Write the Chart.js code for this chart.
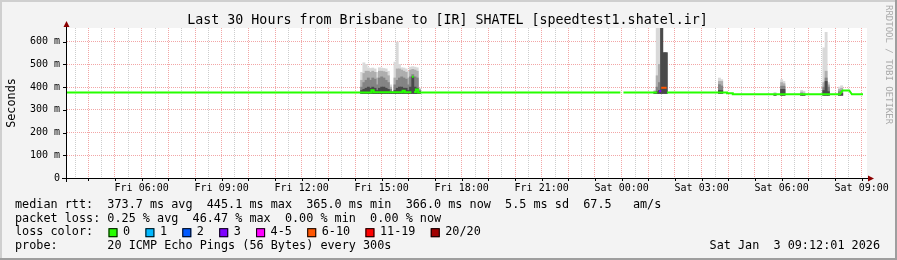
<!DOCTYPE html>
<html>
<head>
<meta charset="utf-8">
<script src="https://cdn.jsdelivr.net/npm/chart.js@4/dist/chart.umd.min.js"></script>
<style>
html, body { margin: 0; padding: 0; background: #f3f3f3; }
canvas { display: block; }
</style>
</head>
<body>
<canvas id="smoke" width="897" height="260"></canvas>
<script>
// axis labels
const xTickLabels = ['Fri 06:00', 'Fri 09:00', 'Fri 12:00', 'Fri 15:00', 'Fri 18:00',
  'Fri 21:00', 'Sat 00:00', 'Sat 03:00', 'Sat 06:00', 'Sat 09:00'];
const yTicks = [0, 50, 100, 150, 200, 250, 300, 350, 400, 450, 500, 550, 600, 650];
const rangeStart = 'Fri 03:12';
const rangeEnd = 'Sat 09:12';

// smoke: per 5 minute step, lowest ping and the tops of 4 bands (dark -> light), ms
const smokeTime = [
  'Fri 14:15', 'Fri 14:20', 'Fri 14:25', 'Fri 14:30', 'Fri 14:35', 'Fri 14:40', 'Fri 14:45',
  'Fri 14:50', 'Fri 14:55', 'Fri 15:00', 'Fri 15:05', 'Fri 15:10', 'Fri 15:15', 'Fri 15:20',
  'Fri 15:25', 'Fri 15:30', 'Fri 15:35', 'Fri 15:40', 'Fri 15:45', 'Fri 15:50', 'Fri 15:55',
  'Fri 16:00', 'Fri 16:05', 'Fri 16:10', 'Fri 16:15', 'Fri 16:20', 'Fri 16:25',
  'Sat 01:15', 'Sat 01:20', 'Sat 01:25', 'Sat 01:30', 'Sat 01:35', 'Sat 01:40',
  'Sat 03:40', 'Sat 03:45',
  'Sat 05:45', 'Sat 06:00', 'Sat 06:05', 'Sat 06:45', 'Sat 06:50',
  'Sat 07:35', 'Sat 07:40', 'Sat 07:45', 'Sat 08:10', 'Sat 08:15'
];
const smokeLow = [
  372, 372, 372, 372, 372, 372, 372, 372, 372, 372, 372, 372, 372, 372,
  372, 372, 372, 372, 372, 372, 372, 372, 372, 372, 372, 372, 372,
  372, 372, 372, 372, 372, 372,
  372, 372,
  364, 364, 364, 364, 364,
  364, 364, 364, 364, 364
];
const smokeBand1 = [
  385, 390, 395, 400, 395, 400, 395, 385, 395, 400, 400, 395, 390, 380,
  375, 385, 395, 400, 400, 395, 395, 385, 400, 445, 400, 395, 380,
  375, 380, 385, 700, 551, 551,
  385, 385,
  366, 390, 390, 368, 366,
  385, 425, 380, 370, 372
];
const smokeBand2 = [
  400, 420, 430, 440, 430, 440, 435, 410, 440, 445, 440, 430, 420, 390,
  377, 410, 430, 440, 445, 440, 435, 410, 445, 455, 445, 440, 385,
  378, 400, 420, 700, 551, 551,
  411, 405,
  368, 404, 404, 372, 369,
  400, 440, 400, 380, 385
];
const smokeBand3 = [
  430, 460, 470, 470, 465, 470, 465, 440, 470, 470, 468, 465, 450, 400,
  379, 440, 480, 480, 475, 470, 465, 440, 475, 478, 475, 470, 390,
  382, 450, 500, 700, 551, 551,
  425, 425,
  372, 420, 415, 378, 374,
  420, 470, 410, 390, 395
];
const smokeBand4 = [
  465, 507, 500, 485, 482, 484, 480, 465, 485, 484, 482, 480, 470, 410,
  382, 510, 598, 500, 485, 484, 480, 470, 488, 490, 488, 485, 395,
  386, 700, 700, 700, 551, 551,
  440, 433,
  377, 433, 425, 386, 382,
  573, 641, 420, 400, 406
];

// median rtt (null = no data)
const medTime = [
  'Fri 03:12', 'Fri 14:37', 'Fri 14:37', 'Fri 14:42', 'Fri 14:42',
  'Fri 15:47', 'Fri 15:47', 'Fri 15:52', 'Fri 15:52', 'Fri 16:07', 'Fri 16:07',
  'Fri 16:08', 'Fri 16:12', 'Fri 16:12',
  'Fri 16:13', 'Fri 16:17', 'Fri 16:17', 'Fri 16:22', 'Fri 16:22',
  'Fri 23:57', 'Sat 00:00', 'Sat 00:04', 'Sat 01:20', 'Sat 01:30', 'Sat 01:42',
  'Sat 03:57', 'Sat 03:57', 'Sat 04:10', 'Sat 04:10',
  'Sat 08:11', 'Sat 08:17', 'Sat 08:32', 'Sat 08:38', 'Sat 09:03'
];
const medValue = [
  376, 376, 386, 386, 377,
  377, 384, 384, 377, 377, null,
  445, 445, null,
  378, 378, 389, 389, 376,
  376, null, 376, 376, null, 376,
  376, 373, 373, 368,
  368, 385, 385, 368, 368
];
// median drawn in loss colours
const loss3Time = ['Sat 01:24', 'Sat 01:29'];
const loss3Value = [382, 382];
const loss6Time = ['Sat 01:29', 'Sat 01:41'];
const loss6Value = [397, 397];

const lossNames = ['0', '1', '2', '3', '4-5', '6-10', '11-19', '20/20'];
const lossColors = ['#26ff00', '#00b8ff', '#0059ff', '#7e00ff', '#ff00ff', '#ff5500', '#ff0000', '#a10000'];

const legendRows = [
  'median rtt:  373.7 ms avg  445.1 ms max  365.0 ms min  366.0 ms now  5.5 ms sd  67.5   am/s',
  'packet loss: 0.25 % avg  46.47 % max  0.00 % min  0.00 % now',
  'loss color:',
  'probe:       20 ICMP Echo Pings (56 Bytes) every 300s'
];
const stamp = 'Sat Jan  3 09:12:01 2026';
const title = 'Last 30 Hours from Brisbane to [IR] SHATEL [speedtest1.shatel.ir]';

const MONO = '"DejaVu Sans Mono", "Liberation Mono", monospace';
const RED = '#f2a6a6';
const GRAY = '#cdcdcd';

function hrs(s) {
  const [d, hm] = s.split(' ');
  const [h, m] = hm.split(':').map(Number);
  return (d === 'Sat' ? 24 : 0) + h + m / 60;
}
const labelAt = {};
xTickLabels.forEach(l => { labelAt[hrs(l)] = l; });

function pts(times, values) {
  return times.map((t, i) => ({ x: hrs(t), y: values[i] }));
}

const bands = [
  { top: smokeBand4, color: '#d9d9d9', order: 5 },
  { top: smokeBand3, color: '#aeaeae', order: 4 },
  { top: smokeBand2, color: '#848484', order: 3 },
  { top: smokeBand1, color: '#4a4a4a', order: 2 }
];
const smokeSets = bands.map(b => ({
  type: 'bar',
  data: smokeTime.map((t, i) => ({ x: hrs(t), y: [smokeLow[i], b.top[i]] })),
  backgroundColor: b.color,
  borderWidth: 0,
  grouped: false,
  barPercentage: 1,
  categoryPercentage: 1,
  order: b.order
}));

function lineSet(data, color) {
  return {
    type: 'line', data, borderColor: color, borderWidth: 2,
    pointRadius: 0, tension: 0, spanGaps: false, borderCapStyle: 'butt', order: 0
  };
}

const frame = {
  id: 'frame',
  beforeDraw(chart) {
    const { ctx, chartArea: a } = chart;
    ctx.save();
    ctx.fillStyle = '#f3f3f3';
    ctx.fillRect(0, 0, 897, 260);
    ctx.fillStyle = '#cfcfcf';
    ctx.fillRect(0, 0, 897, 2);
    ctx.fillRect(0, 0, 2, 260);
    ctx.fillStyle = '#9e9e9e';
    ctx.fillRect(0, 258, 897, 2);
    ctx.fillRect(895, 0, 2, 260);
    ctx.fillStyle = '#ffffff';
    ctx.fillRect(a.left, a.top, a.right - a.left, a.bottom - a.top);
    ctx.restore();
  },
  afterDraw(chart) {
    const { ctx, chartArea: a, scales } = chart;
    ctx.save();
    // axes
    ctx.strokeStyle = '#000';
    ctx.lineWidth = 1;
    ctx.beginPath();
    ctx.moveTo(62, a.bottom + 0.5); ctx.lineTo(a.right + 1, a.bottom + 0.5);
    ctx.moveTo(a.left - 0.5, a.bottom + 4); ctx.lineTo(a.left - 0.5, a.top - 1);
    // tick marks
    yTicks.forEach(v => {
      if (v % 100 !== 0) return;
      const y = Math.round(scales.y.getPixelForValue(v)) + 0.5;
      ctx.moveTo(a.left - 4, y); ctx.lineTo(a.left - 1, y);
    });
    scales.x.ticks.forEach(t => {
      if (t.value % 1 !== 0) return;
      const x = Math.round(scales.x.getPixelForValue(t.value)) + 0.5;
      ctx.moveTo(x, a.bottom + 1); ctx.lineTo(x, a.bottom + 3);
    });
    ctx.stroke();
    ctx.fillStyle = '#8b0000';
    ctx.beginPath();
    ctx.moveTo(a.right + 1, a.bottom - 2.5); ctx.lineTo(a.right + 7, a.bottom + 0.5); ctx.lineTo(a.right + 1, a.bottom + 3.5);
    ctx.closePath(); ctx.fill();
    ctx.beginPath();
    ctx.moveTo(a.left - 3.5, a.top - 1); ctx.lineTo(a.left - 0.5, a.top - 7); ctx.lineTo(a.left + 2.5, a.top - 1);
    ctx.closePath(); ctx.fill();

    // title
    ctx.fillStyle = '#000';
    ctx.font = '13.3px ' + MONO;
    ctx.textAlign = 'center';
    ctx.textBaseline = 'alphabetic';
    ctx.fillText(title, 447.5, 24);

    // y label
    ctx.font = '11.8px ' + MONO;
    ctx.save();
    ctx.translate(15, 103);
    ctx.rotate(-Math.PI / 2);
    ctx.fillText('Seconds', 0, 0);
    ctx.restore();

    // credit
    ctx.save();
    ctx.fillStyle = '#aaaaaa';
    ctx.font = '9px ' + MONO;
    ctx.textAlign = 'left';
    ctx.translate(885.5, 5);
    ctx.rotate(Math.PI / 2);
    ctx.fillText('RRDTOOL / TOBI OETIKER', 0, 0);
    ctx.restore();

    // legend
    ctx.font = '11.8px ' + MONO;
    ctx.textAlign = 'left';
    const base = [207.8, 221.5, 235.2, 249.0];
    legendRows.forEach((r, i) => ctx.fillText(r, 15, base[i]));
    let x = 108.5;
    lossNames.forEach((n, i) => {
      ctx.fillStyle = lossColors[i];
      ctx.fillRect(x, base[2] - 7, 9, 9);
      ctx.strokeStyle = '#000';
      ctx.strokeRect(x + 0.5, base[2] - 6.5, 8, 8);
      ctx.fillStyle = '#000';
      ctx.fillText(n, x + 14.5, base[2]);
      x += 14.5 + ctx.measureText(n).width + 15.3;
    });
    ctx.textAlign = 'right';
    ctx.fillText(stamp, 880, base[3]);
    ctx.restore();
  }
};

new Chart(document.getElementById('smoke'), {
  type: 'bar',
  data: {
    datasets: [
      ...smokeSets,
      lineSet(pts(medTime, medValue), lossColors[0]),
      lineSet(pts(loss3Time, loss3Value), lossColors[3]),
      lineSet(pts(loss6Time, loss6Value), lossColors[5])
    ]
  },
  options: {
    responsive: false,
    devicePixelRatio: 1,
    animation: false,
    events: [],
    layout: { padding: { top: 28, right: 30, left: 0, bottom: 0 } },
    plugins: { legend: { display: false }, tooltip: { enabled: false } },
    scales: {
      x: {
        type: 'linear',
        min: hrs(rangeStart),
        max: hrs(rangeEnd),
        offset: false,
        afterBuildTicks(s) {
          const t = [];
          for (let i = 7; i <= 66; i++) t.push({ value: i / 2 });
          s.ticks = t;
        },
        afterFit(s) { s.height = 82; },
        grid: {
          offset: false, drawTicks: false, lineWidth: 1,
          color: c => (c.tick && c.tick.value % 1 === 0) ? RED : GRAY
        },
        border: { display: false, dash: [1, 1] },
        ticks: {
          autoSkip: false, maxRotation: 0, minRotation: 0, padding: 4, color: '#000',
          font: { family: MONO, size: 10 },
          callback: v => labelAt[v] || ''
        }
      },
      y: {
        min: 0,
        max: 660,
        afterBuildTicks(s) { s.ticks = yTicks.map(v => ({ value: v })); },
        afterFit(s) { s.width = 67; },
        grid: {
          drawTicks: false, lineWidth: 1,
          color: c => (c.tick && c.tick.value % 100 === 0) ? RED : GRAY
        },
        border: { display: false, dash: [1, 1] },
        ticks: {
          padding: 7, color: '#000',
          font: { family: MONO, size: 10 },
          callback: v => v % 100 !== 0 ? '' : (v === 0 ? '0' : v + ' m')
        }
      }
    }
  },
  plugins: [frame]
});
</script>
</body>
</html>
